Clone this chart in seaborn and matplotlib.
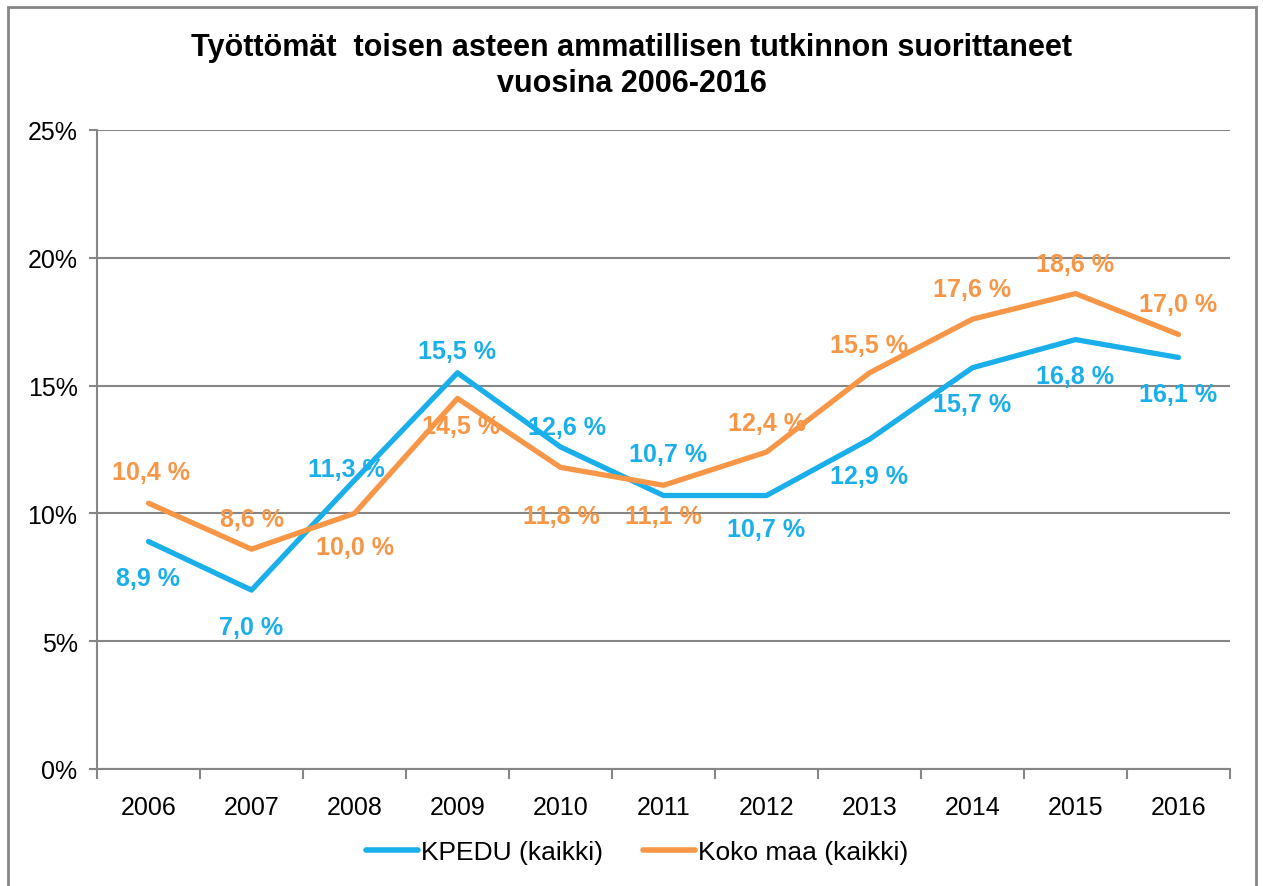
import matplotlib
matplotlib.use("Agg")
import matplotlib.pyplot as plt
import seaborn as sns
import pandas as pd
from matplotlib.patches import Rectangle

years = ["2006", "2007", "2008", "2009", "2010", "2011", "2012", "2013", "2014", "2015", "2016"]
kpedu = [8.9, 7.0, 11.3, 15.5, 12.6, 10.7, 10.7, 12.9, 15.7, 16.8, 16.1]
koko_maa = [10.4, 8.6, 10.0, 14.5, 11.8, 11.1, 12.4, 15.5, 17.6, 18.6, 17.0]
series_names = ["KPEDU (kaikki)", "Koko maa (kaikki)"]
y_ticks = [0, 5, 10, 15, 20, 25]

# label offsets in pixels (dx, dy; positive dy = down)
kpedu_off = [(0, 36), (0, 37), (-8, -11), (0, -22), (6, -20), (5, -42),
             (0, 33), (0, 37), (0, 36), (0, 36), (0, 37)]
koko_off = [(2, -31), (0, -30), (0, 34), (4, 28), (1, 49), (0, 31),
            (0, -29), (0, -28), (0, -30), (0, -30), (0, -30)]

blue = "#1AAFEA"
orange = "#F79646"
grey = "#868686"

df = pd.DataFrame({
    "year": years * 2,
    "value": kpedu + koko_maa,
    "series": [series_names[0]] * len(years) + [series_names[1]] * len(years),
})

sns.set_style("white")
plt.rcParams["font.family"] = ["Liberation Sans", "DejaVu Sans"]
plt.rcParams["text.color"] = "black"
plt.rcParams["xtick.color"] = "black"
plt.rcParams["ytick.color"] = "black"

fig = plt.figure(figsize=(12.63, 8.87), dpi=100)
ax = fig.add_axes([97 / 1263, 1 - 770 / 887, (1230 - 97) / 1263, (770 - 131) / 887])

sns.lineplot(data=df, x="year", y="value", hue="series", sort=False,
             palette=[blue, orange], linewidth=3.8, ax=ax, legend=True)

ax.set_xlim(-0.5, len(years) - 0.5)
ax.set_ylim(0, 25)
ax.set_yticks(y_ticks)
ax.set_yticklabels([f"{v}%" for v in y_ticks], fontsize=18)
ax.set_xticks(range(len(years)))
ax.set_xticklabels(years, fontsize=18)
ax.set_xticks([i - 0.5 for i in range(len(years) + 1)], minor=True)
ax.tick_params(axis="x", which="major", length=0, pad=19)
ax.tick_params(axis="x", which="minor", length=7, width=1.5, color=grey, bottom=True)
ax.tick_params(axis="y", which="major", length=6, width=1.5, color=grey, left=True, pad=8)
ax.set_xlabel("")
ax.set_ylabel("")
ax.yaxis.grid(True, color=grey, linewidth=1.5)
ax.set_axisbelow(True)
for side in ["top", "right"]:
    ax.spines[side].set_visible(False)
for side in ["left", "bottom"]:
    ax.spines[side].set_color(grey)
    ax.spines[side].set_linewidth(1.5)

px = 72 / 100
for i, v in enumerate(kpedu):
    dx, dy = kpedu_off[i]
    ax.annotate(f"{v:.1f} %".replace(".", ","), (i, v), xytext=(dx * px, -dy * px),
                textcoords="offset points", ha="center", va="center",
                fontsize=18, fontweight="bold", color=blue)
for i, v in enumerate(koko_maa):
    dx, dy = koko_off[i]
    ax.annotate(f"{v:.1f} %".replace(".", ","), (i, v), xytext=(dx * px, -dy * px),
                textcoords="offset points", ha="center", va="center",
                fontsize=18, fontweight="bold", color=orange)

leg = ax.legend(loc="center", bbox_to_anchor=(637 / 1263, 1 - 853 / 887), bbox_transform=fig.transFigure,
                ncol=2, frameon=False, fontsize=19, handlelength=2.0, handletextpad=0.1,
                columnspacing=1.5)
for line in leg.get_lines():
    line.set_linewidth(4)

fig.text(0.5, 1 - 48 / 887, "Työttömät  toisen asteen ammatillisen tutkinnon suorittaneet",
         ha="center", va="center", fontsize=22, fontweight="bold")
fig.text(0.5, 1 - 84 / 887, "vuosina 2006-2016",
         ha="center", va="center", fontsize=22, fontweight="bold")

fig.patches.append(Rectangle((8 / 1263, -0.05), (1256 - 8) / 1263, 1.05 - 8 / 887,
                             transform=fig.transFigure, fill=False, edgecolor=grey, linewidth=2))

fig.savefig("out.png", dpi=100)
